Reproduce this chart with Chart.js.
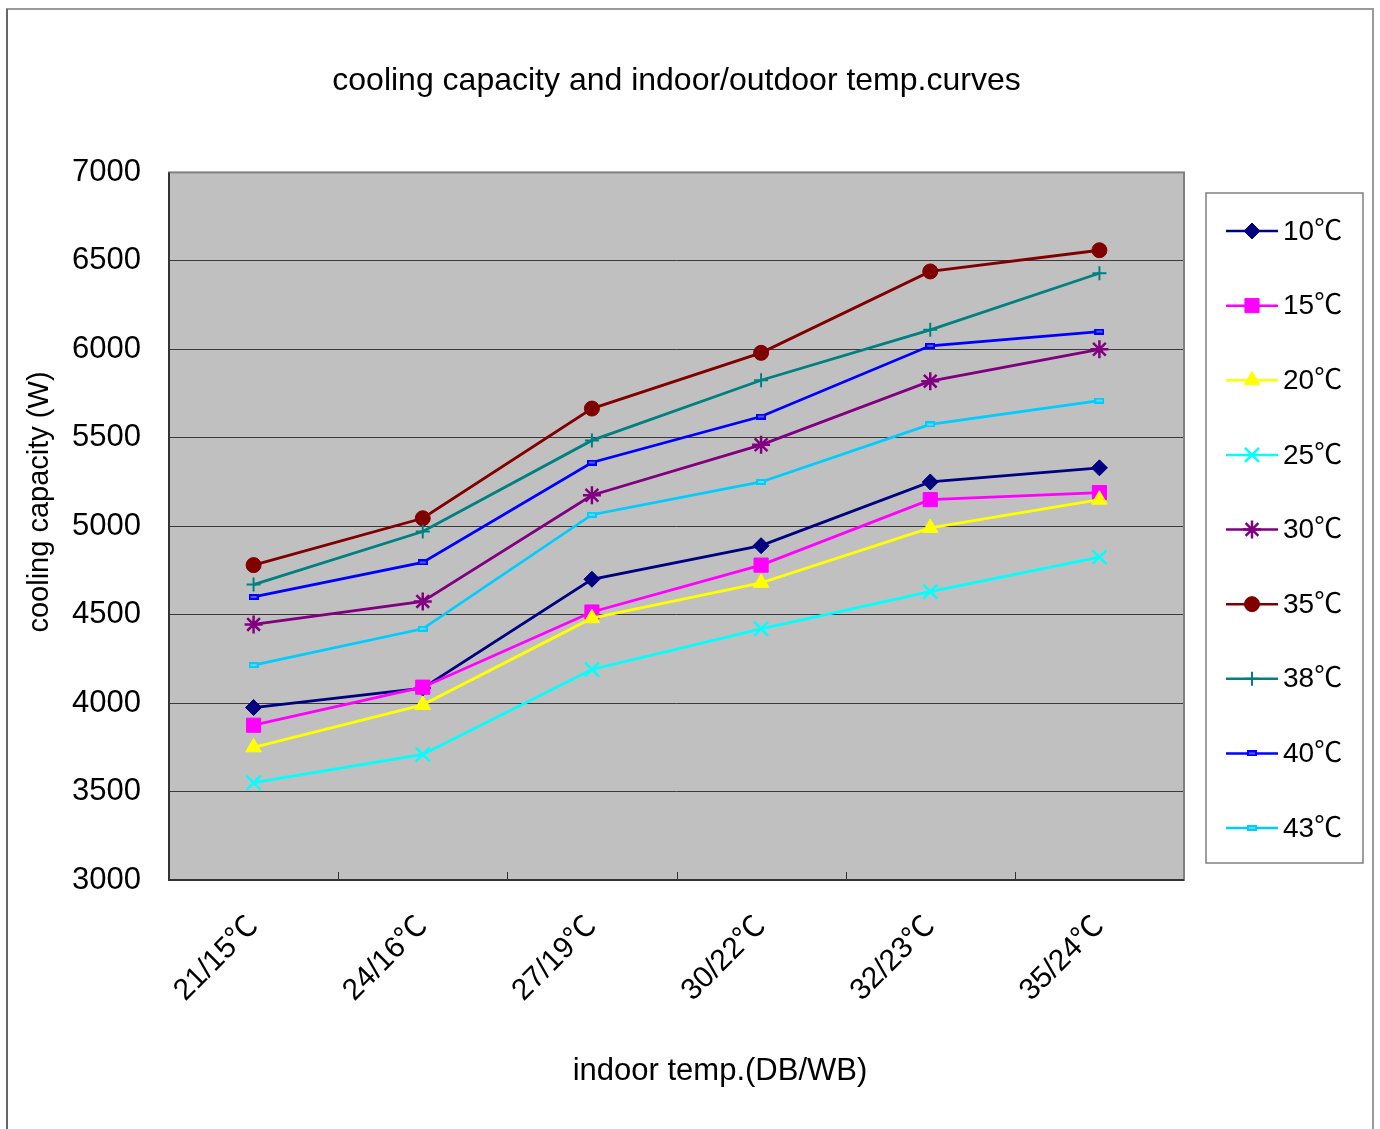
<!DOCTYPE html>
<html>
<head>
<meta charset="utf-8">
<script src="https://cdn.jsdelivr.net/npm/chart.js@4.4.0/dist/chart.umd.min.js"></script>
<style>
  html, body { margin: 0; padding: 0; background: #fff; }
  #wrap { width: 1380px; height: 1129px; }
</style>
</head>
<body>
<div id="wrap"><canvas id="chart" width="1380" height="1129"></canvas></div>
<script>
// indoor conditions (DB/WB)
const categories = ['21/15℃', '24/16℃', '27/19℃', '30/22℃', '32/23℃', '35/24℃'];
// outdoor temperatures
const seriesNames = ['10℃', '15℃', '20℃', '25℃', '30℃', '35℃', '38℃', '40℃', '43℃'];

// cooling capacity (W)
const cap10 = [3975, 4085, 4700, 4890, 5250, 5330];
const cap15 = [3875, 4090, 4515, 4780, 5150, 5190];
const cap20 = [3750, 3990, 4480, 4680, 4990, 5150];
const cap25 = [3550, 3710, 4190, 4420, 4630, 4825];
const cap30 = [4445, 4575, 5175, 5460, 5820, 6000];
const cap35 = [4780, 5045, 5665, 5980, 6440, 6560];
const cap38 = [4670, 4970, 5485, 5825, 6110, 6430];
const cap40 = [4600, 4795, 5360, 5620, 6020, 6100];
const cap43 = [4215, 4420, 5065, 5250, 5575, 5710];

const yMin = 3000, yMax = 7000, yStep = 500;

const FONT = "'Liberation Sans', Arial, 'Noto Sans CJK SC', sans-serif";

// small bar-shaped marker used by 40℃ / 43℃
function barMarker(color) {
  const c = document.createElement('canvas');
  c.width = 10; c.height = 6;
  const g = c.getContext('2d');
  g.fillStyle = color;
  g.fillRect(0, 0, 10, 6);
  g.fillStyle = 'rgba(255,255,255,0.35)';
  g.fillRect(2, 2, 6, 2);
  return c;
}

const styles = [
  { color: '#000080', point: 'rectRot', radius: 8, bw: 1 },
  { color: '#FF00FF', point: 'rect', radius: 10, bw: 1 },
  { color: '#FFFF00', point: 'triangle', radius: 9, bw: 1 },
  { color: '#00FFFF', point: 'crossRot', radius: 10, bw: 2.5 },
  { color: '#800080', point: 'star', radius: 9, bw: 2.5 },
  { color: '#800000', point: 'circle', radius: 7.5, bw: 1 },
  { color: '#008080', point: 'cross', radius: 7, bw: 2 },
  { color: '#0000FF', point: barMarker('#0000FF'), radius: 5, bw: 1 },
  { color: '#00CCFF', point: barMarker('#00CCFF'), radius: 5, bw: 1 }
];

const allData = [cap10, cap15, cap20, cap25, cap30, cap35, cap38, cap40, cap43];

const datasets = allData.map((d, i) => ({
  label: seriesNames[i],
  data: d,
  borderColor: styles[i].color,
  backgroundColor: styles[i].color,
  borderWidth: 2.8,
  pointStyle: styles[i].point,
  pointRadius: styles[i].radius,
  pointBorderWidth: styles[i].bw,
  pointBackgroundColor: styles[i].color,
  pointBorderColor: styles[i].color,
  tension: 0,
  order: -i // later series on top, like Excel
}));

const frame = {
  id: 'frame',
  beforeDraw(chart) {
    const { ctx, chartArea: a } = chart;
    ctx.save();
    ctx.fillStyle = '#C0C0C0';
    ctx.fillRect(a.left, a.top, a.right - a.left, a.bottom - a.top);
    // outer chart frame
    ctx.strokeStyle = '#9a9a9a';
    ctx.lineWidth = 2;
    ctx.beginPath();
    ctx.moveTo(7, 1140); ctx.lineTo(7, 9); ctx.lineTo(1373, 9); ctx.lineTo(1373, 1140);
    ctx.stroke();
    ctx.strokeStyle = '#555';
    ctx.lineWidth = 1.5;
    ctx.beginPath(); ctx.moveTo(7, 9); ctx.lineTo(7, 1140); ctx.stroke();
    ctx.restore();
  },
  afterDraw(chart) {
    const { ctx, chartArea: a, scales } = chart;
    ctx.save();
    // plot area border
    ctx.strokeStyle = '#808080';
    ctx.lineWidth = 2;
    ctx.strokeRect(a.left, a.top, a.right - a.left, a.bottom - a.top);
    ctx.strokeStyle = '#333';
    ctx.beginPath();
    ctx.moveTo(a.left, a.top); ctx.lineTo(a.left, a.bottom); ctx.lineTo(a.right, a.bottom);
    ctx.stroke();
    // inner tick marks between categories
    const xs = scales.x;
    ctx.lineWidth = 1;
    for (let i = 1; i < categories.length; i++) {
      const px = Math.round((xs.getPixelForTick(i - 1) + xs.getPixelForTick(i)) / 2) + 0.5;
      ctx.beginPath(); ctx.moveTo(px, a.bottom); ctx.lineTo(px, a.bottom - 8); ctx.stroke();
    }

    // axis titles
    ctx.fillStyle = '#000';
    ctx.textAlign = 'center';
    ctx.textBaseline = 'middle';
    ctx.font = '31px ' + FONT;
    ctx.fillText('indoor temp.(DB/WB)', 720, 1071);
    ctx.save();
    ctx.translate(40, 502);
    ctx.rotate(-Math.PI / 2);
    ctx.font = '29px ' + FONT;
    ctx.fillText('cooling capacity (W)', 0, 0);
    ctx.restore();

    // legend
    ctx.fillStyle = '#fff';
    ctx.fillRect(1206, 193, 157, 670);
    ctx.strokeStyle = '#808080';
    ctx.lineWidth = 1.5;
    ctx.strokeRect(1206, 193, 157, 670);
    const step = (828 - 231) / 8;
    datasets.forEach((ds, i) => {
      const y = 231 + i * step;
      ctx.strokeStyle = ds.borderColor;
      ctx.lineWidth = 2.5;
      ctx.beginPath(); ctx.moveTo(1226, y); ctx.lineTo(1278, y); ctx.stroke();
      ctx.fillStyle = ds.pointBackgroundColor;
      ctx.strokeStyle = ds.pointBorderColor;
      ctx.lineWidth = ds.pointBorderWidth;
      Chart.helpers.drawPoint(ctx, {
        pointStyle: ds.pointStyle, radius: ds.pointRadius,
        rotation: 0, borderWidth: ds.pointBorderWidth
      }, 1252, y);
      ctx.fillStyle = '#000';
      ctx.textAlign = 'left';
      ctx.textBaseline = 'middle';
      ctx.font = '28px ' + FONT;
      ctx.fillText(ds.label, 1283, y + 1);
    });
    ctx.restore();
  }
};

new Chart(document.getElementById('chart'), {
  type: 'line',
  data: { labels: categories, datasets },
  plugins: [frame],
  options: {
    responsive: false,
    animation: false,
    devicePixelRatio: 1,
    layout: { padding: { left: 7, right: 196, top: 0, bottom: 0 } },
    plugins: {
      legend: { display: false },
      tooltip: { enabled: false },
      title: {
        display: true,
        fullSize: false,
        text: 'cooling capacity and indoor/outdoor temp.curves',
        color: '#000',
        font: { family: FONT, size: 32, weight: 'normal', lineHeight: 1.2 },
        padding: { top: 62, bottom: 72 }
      }
    },
    scales: {
      x: {
        type: 'category',
        offset: true,
        grid: { display: false },
        border: { display: false },
        afterFit: s => { s.height = 1129 - 880; },
        ticks: {
          color: '#000',
          minRotation: 45,
          maxRotation: 45,
          padding: 21,
          font: { family: FONT, size: 30 }
        }
      },
      y: {
        min: yMin,
        max: yMax,
        afterFit: s => { s.width = 162; },
        border: { display: false },
        grid: { color: '#3a3a3a', lineWidth: 1, drawTicks: false },
        ticks: {
          stepSize: yStep,
          color: '#000',
          padding: 28,
          font: { family: FONT, size: 31 },
          callback: v => String(v)
        }
      }
    }
  }
});
</script>
</body>
</html>
